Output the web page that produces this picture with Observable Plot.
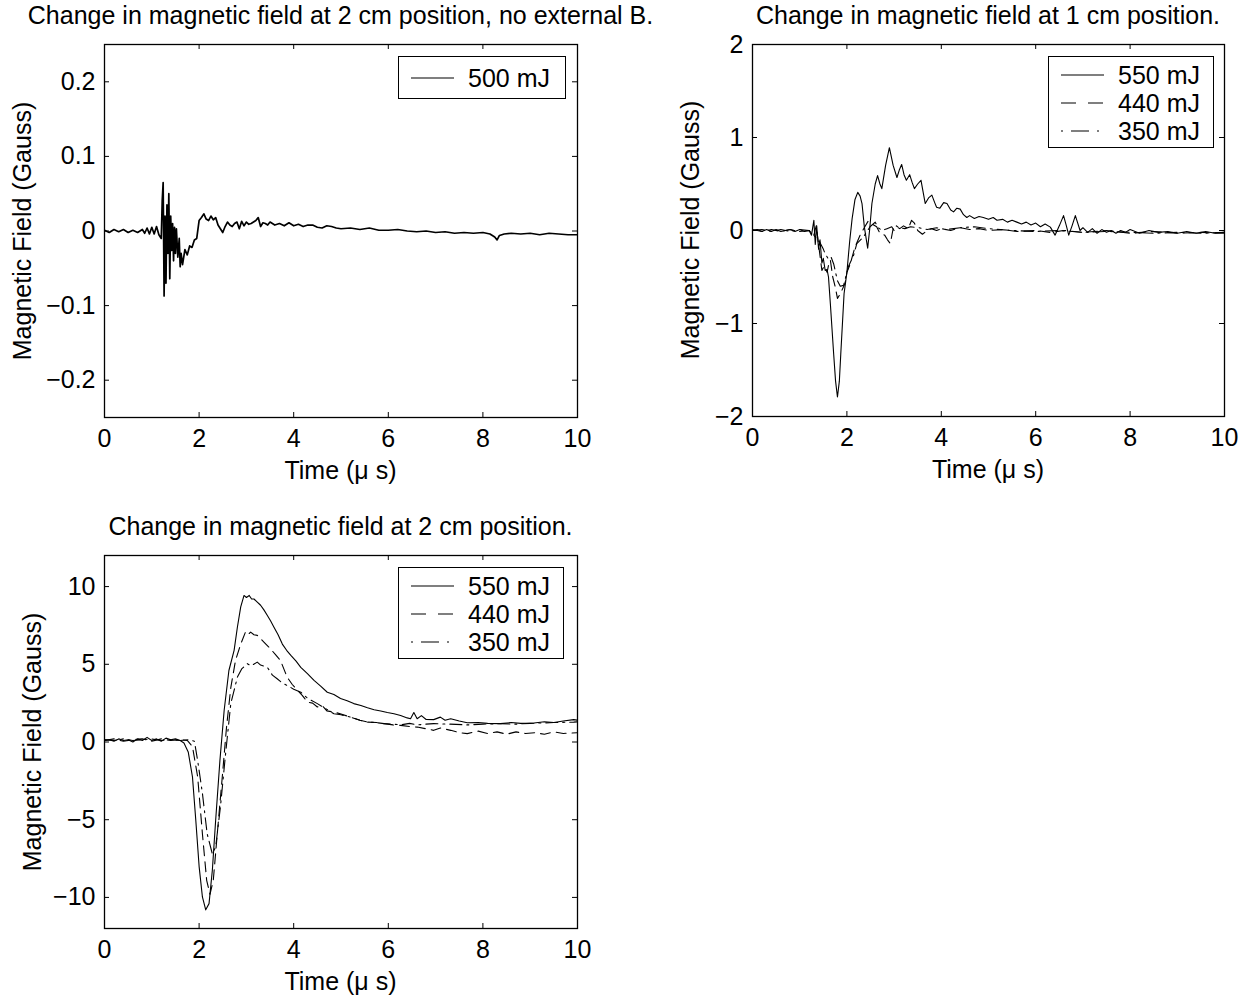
<!DOCTYPE html>
<html><head><meta charset="utf-8">
<script src="https://cdn.jsdelivr.net/npm/d3@7"></script>
<script src="https://cdn.jsdelivr.net/npm/@observablehq/plot@0.6"></script>
<style>
body{margin:0;background:#fff;}
#chart{position:relative;width:1250px;height:1000px;background:#fff;font-family:"Liberation Sans",Arial,Helvetica,sans-serif;color:#000;overflow:hidden;}
.panel{position:absolute;}
.title,.xlabel{position:absolute;font-size:25px;white-space:nowrap;transform:translate(-50%,-50%);line-height:1;}
.ylabel{position:absolute;font-size:25px;white-space:nowrap;transform:translate(-50%,-50%) rotate(-90deg);line-height:1;}
.legend{position:absolute;border:1.4px solid #000;background:#fff;box-sizing:border-box;}
.legend .lt{position:absolute;font-size:25px;line-height:25px;white-space:nowrap;}
.legend svg{position:absolute;overflow:visible;}
</style></head>
<body><div id="chart"></div>
<script>
// ---------- Tick values ----------
const timeTicks = [0, 2, 4, 6, 8, 10];
const p1Ticks = [-0.2, -0.1, 0, 0.1, 0.2];
const p2Ticks = [-2, -1, 0, 1, 2];
const p3Ticks = [-10, -5, 0, 5, 10];

// ---------- Panel 1: 2 cm, no external B, 500 mJ ----------
const p1_t500 = [0,0.1,0.2,0.3,0.4,0.5,0.6,0.7,0.8,0.85,0.9,0.95,1.0,1.05,1.1,1.15,1.2,1.22,1.24,1.26,1.28,1.3,1.32,1.34,1.36,1.38,1.4,1.42,1.44,1.46,1.48,1.5,1.52,1.55,1.58,1.6,1.62,1.65,1.7,1.75,1.8,1.85,1.9,1.95,2.0,2.05,2.1,2.15,2.2,2.25,2.3,2.35,2.4,2.45,2.5,2.55,2.6,2.65,2.7,2.75,2.8,2.85,2.9,2.95,3.0,3.05,3.1,3.15,3.2,3.25,3.3,3.35,3.4,3.45,3.5,3.6,3.7,3.8,3.9,4.0,4.1,4.2,4.3,4.4,4.5,4.6,4.7,4.8,4.9,5.0,5.2,5.4,5.6,5.8,6.0,6.2,6.4,6.6,6.8,7.0,7.2,7.4,7.6,7.8,8.0,8.15,8.25,8.3,8.35,8.45,8.6,8.8,9.0,9.2,9.4,9.6,9.8,10];
const p1_b500 = [0.001,-0.002,0.002,-0.001,0.002,-0.002,0.001,-0.002,0.002,-0.003,0.004,-0.004,0.005,-0.004,0.006,-0.005,-0.01,0.04,0.065,-0.087,0.02,-0.07,0.035,-0.03,0.05,-0.064,0.02,-0.026,0.01,-0.04,0.005,-0.03,0.003,-0.035,-0.01,-0.048,-0.03,-0.045,-0.025,-0.032,-0.02,-0.022,-0.012,-0.01,0.014,0.018,0.023,0.016,0.014,0.02,0.015,0.018,0.008,0.003,-0.002,0.006,0.012,0.008,0.006,0.01,0.012,0.003,0.013,0.007,0.012,0.009,0.01,0.012,0.014,0.018,0.006,0.011,0.01,0.008,0.012,0.008,0.01,0.007,0.011,0.007,0.009,0.006,0.008,0.008,0.005,0.004,0.007,0.006,0.004,0.003,0.004,0.002,0.004,0.001,0.001,0.002,0.0,-0.001,0.0,-0.002,-0.001,-0.003,-0.002,-0.003,-0.002,-0.004,-0.008,-0.012,-0.006,-0.004,-0.003,-0.004,-0.003,-0.005,-0.003,-0.004,-0.005,-0.005];

// ---------- Panel 2: 1 cm position ----------
const p2_t550 = [0,0.1,0.2,0.3,0.4,0.5,0.6,0.7,0.8,0.9,1.0,1.1,1.2,1.25,1.3,1.33,1.36,1.4,1.43,1.47,1.5,1.54,1.58,1.61,1.65,1.72,1.76,1.8,1.84,1.87,1.94,2.0,2.06,2.11,2.17,2.23,2.28,2.32,2.37,2.44,2.48,2.53,2.6,2.65,2.7,2.74,2.82,2.9,2.98,3.06,3.11,3.16,3.21,3.26,3.33,3.38,3.43,3.5,3.57,3.62,3.66,3.73,3.8,3.86,3.9,3.97,4.05,4.12,4.2,4.26,4.33,4.4,4.47,4.54,4.6,4.7,4.8,4.89,5.0,5.1,5.18,5.3,5.4,5.5,5.6,5.7,5.8,5.9,6.0,6.1,6.2,6.31,6.41,6.5,6.59,6.65,6.7,6.77,6.84,6.94,7.0,7.1,7.2,7.3,7.4,7.5,7.6,7.7,7.8,7.9,8.0,8.2,8.4,8.6,8.8,9.0,9.2,9.4,9.6,9.8,10];
const p2_b550 = [0,0.01,-0.01,0.01,-0.01,0.01,-0.01,0.0,0.01,-0.01,0.01,-0.01,0.0,-0.05,0.11,-0.15,0.05,-0.2,-0.1,-0.35,-0.3,-0.43,-0.42,-0.5,-0.79,-1.33,-1.62,-1.79,-1.62,-1.33,-0.68,-0.45,-0.11,0.125,0.33,0.41,0.37,0.29,0.036,-0.19,0.0,0.29,0.5,0.59,0.5,0.45,0.7,0.89,0.7,0.57,0.65,0.71,0.6,0.54,0.6,0.52,0.45,0.5,0.54,0.4,0.29,0.35,0.38,0.3,0.25,0.24,0.3,0.29,0.22,0.2,0.24,0.23,0.17,0.14,0.16,0.13,0.15,0.14,0.12,0.14,0.11,0.12,0.09,0.11,0.09,0.07,0.09,0.06,0.08,0.04,0.07,0.036,-0.05,0.05,0.16,0.05,-0.05,0.05,0.16,0.0,0.03,-0.02,0.02,-0.03,0.01,-0.02,0.0,-0.03,0.0,-0.02,0.01,-0.03,0.0,-0.02,-0.01,-0.03,-0.01,-0.03,-0.01,-0.03,-0.02];
const p2_t440 = [0,0.2,0.4,0.6,0.8,1.0,1.2,1.3,1.35,1.4,1.47,1.52,1.58,1.62,1.65,1.7,1.75,1.8,1.86,1.96,2.0,2.07,2.17,2.28,2.38,2.45,2.53,2.63,2.7,2.8,2.86,2.92,2.98,3.05,3.12,3.2,3.3,3.37,3.43,3.5,3.6,3.7,3.79,3.9,4.0,4.2,4.4,4.6,4.8,5.0,5.3,5.6,6.0,6.3,6.6,7.0,7.5,8.0,8.5,9.0,9.5,10];
const p2_b440 = [0.01,-0.01,0.01,-0.01,0.01,-0.01,0.0,-0.05,0.05,-0.15,-0.43,-0.38,-0.45,-0.35,-0.32,-0.5,-0.6,-0.73,-0.68,-0.57,-0.45,-0.36,-0.18,-0.05,0.04,0.1,0.07,0.04,-0.03,-0.05,-0.1,-0.14,0.02,0.04,0.02,0.05,0.02,0.11,0.08,0.0,-0.04,0.0,0.02,0.0,0.02,0.0,0.03,0.01,0.02,0.0,0.01,-0.01,0.0,-0.02,0.0,-0.02,0.0,-0.03,-0.01,-0.03,-0.02,-0.03];
const p2_t350 = [0,0.2,0.4,0.6,0.8,1.0,1.2,1.35,1.42,1.5,1.54,1.6,1.66,1.72,1.8,1.86,1.93,2.03,2.14,2.21,2.35,2.49,2.6,2.66,2.75,2.85,2.95,3.0,3.05,3.1,3.23,3.35,3.52,3.7,3.9,4.1,4.4,4.7,5.0,5.5,6.0,6.5,7.0,7.5,8.0,8.5,9.0,9.5,10];
const p2_b350 = [0.0,0.01,-0.01,0.01,-0.01,0.01,0.0,-0.08,-0.12,-0.2,-0.25,-0.3,-0.28,-0.36,-0.54,-0.6,-0.59,-0.39,-0.27,-0.14,-0.07,0.04,0.09,0.03,0.0,0.02,0.04,0.0,0.05,0.03,0.02,0.04,0.03,0.01,0.03,0.01,0.03,0.04,0.02,0.0,-0.01,0.0,-0.02,-0.01,-0.02,-0.03,-0.02,-0.03,-0.02];

// ---------- Panel 3: 2 cm position ----------
const p3_t550 = [0,0.1,0.2,0.3,0.4,0.5,0.6,0.7,0.8,0.9,1.0,1.1,1.2,1.3,1.4,1.5,1.6,1.68,1.77,1.86,1.93,2.0,2.07,2.14,2.21,2.28,2.35,2.44,2.53,2.63,2.74,2.81,2.88,2.95,3.0,3.06,3.11,3.16,3.23,3.3,3.37,3.44,3.51,3.58,3.67,3.76,3.85,3.94,4.05,4.15,4.29,4.43,4.57,4.71,4.85,4.99,5.13,5.27,5.42,5.56,5.7,5.84,5.98,6.12,6.26,6.4,6.47,6.54,6.61,6.7,6.8,6.96,7.1,7.2,7.32,7.5,7.67,7.9,8.1,8.37,8.6,8.8,9.08,9.3,9.5,9.7,9.92,10];
const p3_b550 = [0.1,0.15,0.05,0.2,0.1,0.15,0.0,0.2,0.1,0.3,0.1,0.2,0.05,0.25,0.15,0.2,0.1,-0.06,-0.64,-2.25,-5.04,-8.0,-9.97,-10.8,-10.4,-8.25,-5.04,-1.2,2.04,4.6,5.9,7.4,8.7,9.43,9.3,9.43,9.2,9.2,9.0,8.8,8.5,8.15,7.8,7.4,6.9,6.3,5.9,5.57,5.2,4.8,4.4,3.97,3.6,3.2,3.05,2.8,2.65,2.47,2.35,2.2,2.08,2.0,1.9,1.82,1.7,1.55,1.5,1.9,1.5,1.7,1.45,1.44,1.6,1.4,1.5,1.35,1.24,1.25,1.2,1.18,1.25,1.2,1.22,1.3,1.25,1.35,1.44,1.4];
const p3_t440 = [0,0.2,0.4,0.6,0.8,1.0,1.2,1.4,1.6,1.75,1.86,1.97,2.07,2.16,2.23,2.3,2.39,2.49,2.58,2.67,2.77,2.88,2.98,3.03,3.09,3.16,3.23,3.37,3.51,3.62,3.72,3.86,3.97,4.08,4.18,4.29,4.4,4.5,4.6,4.7,4.85,5.0,5.2,5.4,5.56,5.75,5.91,6.1,6.26,6.45,6.61,6.8,6.96,7.1,7.32,7.5,7.67,7.9,8.1,8.3,8.5,8.7,8.9,9.1,9.3,9.5,9.7,10];
const p3_b440 = [0.1,0.2,0.05,0.15,0.2,0.05,0.2,0.1,0.15,0.1,-0.3,-2.25,-5.9,-8.9,-9.8,-8.9,-5.7,-2.25,0.96,3.5,5.25,6.3,7.07,6.9,7.07,6.9,6.86,6.43,6.0,5.6,5.25,4.18,3.7,3.32,3.0,2.57,2.5,2.25,2.35,2.0,1.93,1.8,1.6,1.4,1.28,1.25,1.18,1.1,1.07,1.0,0.96,0.85,0.75,0.9,0.75,0.6,0.54,0.7,0.55,0.65,0.5,0.65,0.55,0.6,0.5,0.65,0.55,0.6];
const p3_t350 = [0,0.2,0.4,0.6,0.8,1.0,1.2,1.4,1.6,1.8,1.9,1.97,2.07,2.17,2.28,2.35,2.45,2.56,2.67,2.81,2.9,3.02,3.1,3.23,3.3,3.44,3.55,3.65,3.76,3.86,4.0,4.15,4.3,4.5,4.7,4.85,5.0,5.2,5.4,5.56,5.75,5.91,6.1,6.26,6.45,6.61,6.8,6.96,7.3,7.67,8.0,8.37,8.7,9.0,9.5,9.92,10];
const p3_b350 = [0.15,0.1,0.2,0.1,0.15,0.2,0.1,0.15,0.1,0.15,0.05,-1.2,-3.3,-5.9,-7.2,-6.75,-4.2,-0.75,2.47,4.18,4.7,5.04,4.9,5.14,4.95,4.82,4.3,4.07,3.8,3.64,3.4,3.2,2.8,2.47,2.1,1.82,1.75,1.6,1.4,1.28,1.25,1.18,1.15,1.1,1.2,1.1,1.15,1.18,1.15,1.1,1.15,1.18,1.15,1.2,1.25,1.28,1.3];

// ---------- Text ----------
const titles = [
  "Change in magnetic field at 2 cm position, no external B.",
  "Change in magnetic field at 1 cm position.",
  "Change in magnetic field at 2 cm position."
];
const xLabel = "Time (\u03bc s)";
const yLabel = "Magnetic Field (Gauss)";
const legend1 = ["500 mJ"];
const legend3 = ["550 mJ", "440 mJ", "350 mJ"];

// ---------- Styles ----------
const dashCurve = [null, "10,6", "12,5,2,5"];
const dashLegend = [null, "15,12", "2,8,18,8"];
const FONT = '"Liberation Sans", Arial, Helvetica, sans-serif';
const fmt = d => (d < 0 ? "\u2212" : "") + String(Math.abs(d));

const chart = document.getElementById("chart");

function addDiv(cls, text, x, y) {
  const d = document.createElement("div");
  d.className = cls; d.textContent = text;
  d.style.left = x + "px"; d.style.top = y + "px";
  chart.appendChild(d);
}

function makePanel(cfg) {
  const fw = cfg.width - cfg.ml - cfg.mr;
  const fh = cfg.height - cfg.mt - cfg.mb;
  const TL = 5;
  const lines = cfg.series.map((s, i) =>
    Plot.line(s.t, {x: s.t, y: s.b, stroke: "#000", strokeWidth: cfg.sw,
      strokeDasharray: dashCurve[i] || undefined, clip: true}));
  const svg = Plot.plot({
    width: cfg.width, height: cfg.height,
    marginLeft: cfg.ml, marginRight: cfg.mr, marginTop: cfg.mt, marginBottom: cfg.mb,
    x: {domain: [0, 10]},
    y: {domain: cfg.yDomain},
    style: {fontFamily: FONT, fontSize: "25px", background: "transparent", overflow: "visible", color: "#000"},
    marks: [
      ...lines,
      Plot.tickX(timeTicks, {x: d => d, insetTop: fh - TL, stroke: "#000", strokeWidth: 1}),
      Plot.tickX(timeTicks, {x: d => d, insetBottom: fh - TL, stroke: "#000", strokeWidth: 1}),
      Plot.tickY(cfg.yTicks, {y: d => d, insetRight: fw - TL, stroke: "#000", strokeWidth: 1}),
      Plot.tickY(cfg.yTicks, {y: d => d, insetLeft: fw - TL, stroke: "#000", strokeWidth: 1}),
      Plot.frame({stroke: "#000", strokeWidth: 1.3}),
      Plot.axisX(timeTicks, {anchor: "bottom", tickSize: 0, tickPadding: 12, label: null, fontSize: 25, tickFormat: fmt}),
      Plot.axisY(cfg.yTicks, {anchor: "left", tickSize: 0, tickPadding: 9, label: null, fontSize: 25, tickFormat: fmt})
    ]
  });
  svg.classList.add("panel");
  svg.style.position = "absolute";
  svg.style.left = cfg.left + "px";
  svg.style.top = cfg.top + "px";
  chart.appendChild(svg);

  const fx0 = cfg.left + cfg.ml, fy0 = cfg.top + cfg.mt;
  const cx = fx0 + fw / 2;
  addDiv("title", cfg.title, cx, fy0 - 29);
  addDiv("xlabel", xLabel, cx, fy0 + fh + 53);
  addDiv("ylabel", yLabel, fx0 - cfg.ylOff, fy0 + fh / 2);

  // legend
  const lg = document.createElement("div");
  lg.className = "legend";
  lg.style.left = cfg.leg.x + "px"; lg.style.top = cfg.leg.y + "px";
  lg.style.width = cfg.leg.w + "px"; lg.style.height = cfg.leg.h + "px";
  cfg.leg.labels.forEach((lab, i) => {
    const ry = cfg.leg.row0 + i * 28;
    const ns = "http://www.w3.org/2000/svg";
    const s = document.createElementNS(ns, "svg");
    s.setAttribute("width", 44); s.setAttribute("height", 6);
    s.style.left = "12px"; s.style.top = (ry - 3) + "px";
    const ln = document.createElementNS(ns, "line");
    ln.setAttribute("x1", 0); ln.setAttribute("x2", 43);
    ln.setAttribute("y1", 3); ln.setAttribute("y2", 3);
    ln.setAttribute("stroke", "#000"); ln.setAttribute("stroke-width", 1.1);
    if (dashLegend[i]) ln.setAttribute("stroke-dasharray", dashLegend[i]);
    s.appendChild(ln); lg.appendChild(s);
    const t = document.createElement("div");
    t.className = "lt"; t.textContent = lab;
    t.style.left = "69px"; t.style.top = (ry - 12.5) + "px";
    lg.appendChild(t);
  });
  chart.appendChild(lg);
}

makePanel({
  left: 0, top: 0, width: 625, height: 500, ml: 104, mr: 48, mt: 44, mb: 83,
  yDomain: [-0.25, 0.25], yTicks: p1Ticks, sw: 1.7, title: titles[0], ylOff: 82,
  series: [{t: p1_t500, b: p1_b500}],
  leg: {x: 398, y: 56, w: 168, h: 43, row0: 21, labels: legend1}
});
makePanel({
  left: 625, top: 0, width: 625, height: 500, ml: 127, mr: 26, mt: 44, mb: 84,
  yDomain: [-2, 2], yTicks: p2Ticks, sw: 1.1, title: titles[1], ylOff: 62,
  series: [{t: p2_t550, b: p2_b550}, {t: p2_t440, b: p2_b440}, {t: p2_t350, b: p2_b350}],
  leg: {x: 1048, y: 56, w: 166, h: 92, row0: 18, labels: legend3}
});
makePanel({
  left: 0, top: 510, width: 625, height: 490, ml: 104, mr: 48, mt: 45, mb: 72,
  yDomain: [-12, 12], yTicks: p3Ticks, sw: 1.1, title: titles[2], ylOff: 72,
  series: [{t: p3_t550, b: p3_b550}, {t: p3_t440, b: p3_b440}, {t: p3_t350, b: p3_b350}],
  leg: {x: 398, y: 567, w: 166, h: 92, row0: 18, labels: legend3}
});
</script></body></html>
